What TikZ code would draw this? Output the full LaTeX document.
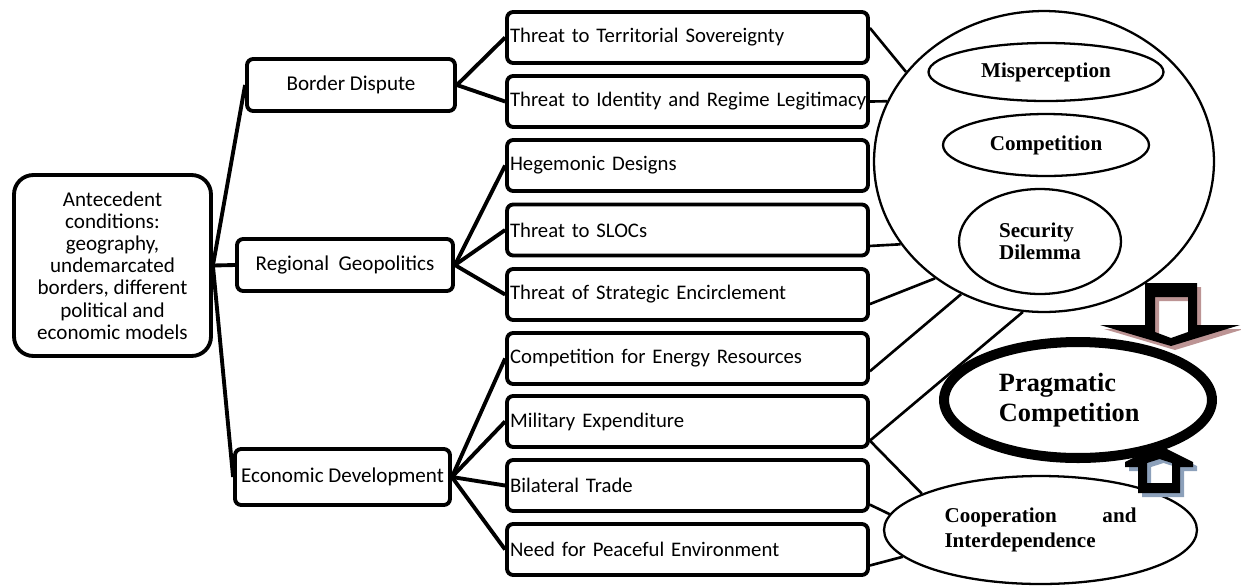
\documentclass[tikz,border=0pt]{standalone}
\usepackage{fontspec}
\setmainfont{Carlito}
\newfontfamily\timesfont{Liberation Serif}
\usetikzlibrary{shapes.geometric}
\definecolor{shadowpink}{RGB}{188,148,148}
\definecolor{shadowblue}{RGB}{140,160,186}
\tikzset{
  cause/.style={draw, line width=2.2pt, rounded corners=3.5pt, align=center, font=\fontsize{12}{14}\selectfont},
  factor/.style={cause, minimum width=7.22cm, minimum height=1.02cm, text width=7.1cm, inner xsep=0.06cm, align=left, font=\fontsize{11.8}{14}\selectfont},
  oval/.style={draw, ellipse, line width=1.3pt, inner sep=0pt, fill=white, align=center, font=\timesfont\bfseries\fontsize{12}{12.5}\selectfont},
  link/.style={line width=2.2pt},
  thinlink/.style={line width=1.5pt}
}

\begin{document}
\begin{tikzpicture}[x=0.02cm, y=-0.02cm]
		\useasboundingbox (0,0) rectangle (1241,586);
		\node[cause, rounded corners=11pt, minimum width=3.94cm, minimum height=3.62cm, font=\fontsize{12}{12.6}\selectfont] (ante) at (112.5,265.5) {Antecedent\\conditions:\\geography,\\undemarcated\\borders, different\\political and\\economic models};
		\node[cause, minimum width=4.16cm, minimum height=1.04cm] (border) at (351,85) {Border Dispute};
		\node[cause, minimum width=4.32cm, minimum height=1.04cm] (region) at (345,265) {Regional\ \ Geopolitics};
		\node[cause, minimum width=4.3cm, minimum height=1.12cm, inner xsep=1pt] (econ) at (342.5,477) {Economic Development};
		\foreach \name/\y/\txt in {sov/37.5/Threat to Territorial Sovereignty, ident/101.5/Threat to Identity and Regime Legitimacy, hege/165.5/Hegemonic Designs, sloc/230/Threat to SLOCs, encir/294.5/Threat of Strategic Encirclement, energy/358.5/Competition for Energy Resources, milit/421.5/Military Expenditure, trade/485.5/Bilateral Trade, peace/549.5/Need for Peaceful Environment}
			\node[factor] (\name) at (687.5,\y) {\mbox{\txt}};
		\node[oval, minimum width=6.8cm, minimum height=6.02cm] (dynamics) at (1044,161.5) {};
		\node[oval, minimum width=4.7cm, minimum height=1.16cm] (misp) at (1046,72) {Misperception};
		\node[oval, minimum width=4.12cm, minimum height=1.24cm] (comp) at (1046,145) {Competition};
		\node[oval, minimum width=3.24cm, minimum height=2.1cm, align=left] (secu) at (1040,241.5) {Security\\Dilemma};
		\node[oval, minimum width=6.26cm, minimum height=2.16cm, text width=3.84cm, align=left, font=\timesfont\bfseries\fontsize{12}{14}\selectfont] (coop) at (1040.5,530) {Cooperation\hfill and\\Interdependence\vphantom{g}};
		\draw[link] (ante.east) -- (border.west);
		\draw[link] (ante.east) -- (region.west);
		\draw[link] (ante.east) -- (econ.west);
		\foreach \t in {sov, ident} \draw[link] (border.east) -- (\t.west);
		\foreach \t in {hege, sloc, encir} \draw[link] (region.east) -- (\t.west);
		\foreach \t in {energy, milit, trade, peace} \draw[link] (econ.east) -- (\t.west);
		\draw[thinlink] (sov.3) -- (dynamics.147);
		\draw[thinlink] (ident.east) -- (dynamics.159);
		\draw[thinlink] (sloc.-5) -- (dynamics.210);
		\draw[thinlink] (encir.-3) -- (dynamics.227);
		\draw[thinlink] (energy.-4) -- (dynamics.238);
		\draw[thinlink] (milit.-6.5) -- (dynamics.262);
		\draw[thinlink] (milit.-6.5) -- (coop.163);
		\draw[thinlink] (trade.-6) -- (coop.174);
		\draw[thinlink] (peace.-5.5) -- (coop.191);
		\fill[white] (1145,283) -- (1197,283) -- (1197,325) -- (1240,325) -- (1171,346) -- (1100,325) -- (1145,325) -- cycle;
		\foreach \col/\d in {shadowpink/4, black/0}
			\fill[\col, even odd rule, shift={(\d,\d)}] (1145,283) -- (1197,283) -- (1197,325) -- (1240,325) -- (1171,346) -- (1100,325) -- (1145,325) -- cycle (1155,297) -- (1188,297) -- (1188,332) -- (1171,338) -- (1155,332) -- cycle;
		\fill[white] (1138,493) -- (1180,493) -- (1180,467) -- (1193,467) -- (1193,462) -- (1159,445) -- (1125,462) -- (1125,467) -- (1138,467) -- cycle;
		\foreach \col/\d in {shadowblue/4, black/0}
			\fill[\col, even odd rule, shift={(\d,\d)}] (1138,493) -- (1180,493) -- (1180,467) -- (1193,467) -- (1193,462) -- (1159,445) -- (1125,462) -- (1125,467) -- (1138,467) -- cycle (1147,483) -- (1172,483) -- (1172,463) -- (1159.5,459) -- (1147,463) -- cycle;
		\node[oval, line width=5.7pt, minimum width=5.36cm, minimum height=2.32cm, align=left, font=\timesfont\bfseries\fontsize{15}{17}\selectfont] (prag) at (1078,400) {Pragmatic\\Competition\hspace*{10pt}};
	\end{tikzpicture}
\end{document}
